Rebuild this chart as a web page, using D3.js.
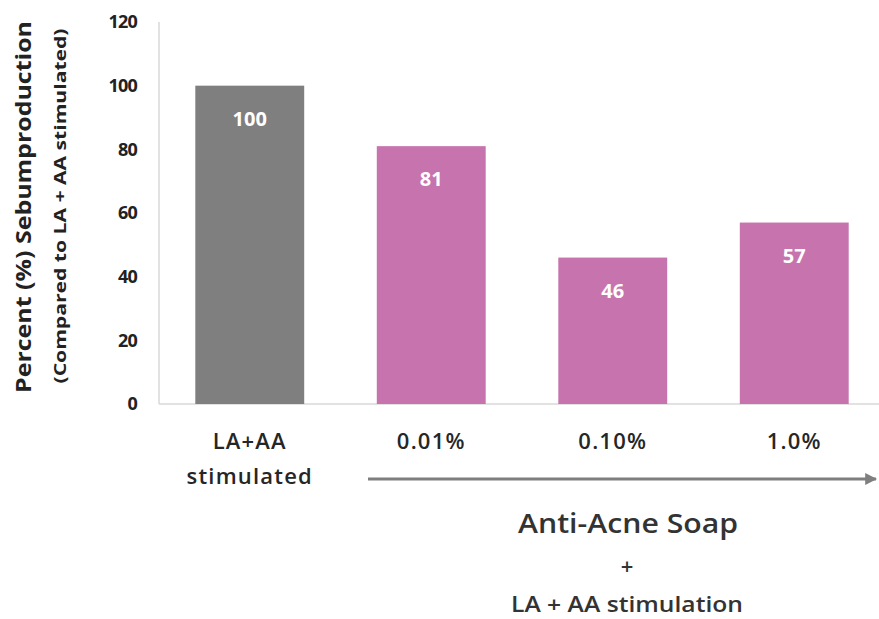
<!DOCTYPE html>
<html><head><meta charset="utf-8">
<script src="https://cdn.jsdelivr.net/npm/d3@7"></script>
<style>body{margin:0;background:#fff}</style>
</head><body>
<script>
const categories = ["LA+AA|stimulated", "0.01%", "0.10%", "1.0%"];
const values = [100, 81, 46, 57];
const barColors = ["#7f7f7f", "#c774ae", "#c774ae", "#c774ae"];
const yTicks = [0, 20, 40, 60, 80, 100, 120];

const W = 879, H = 619;
const svg = d3.select("body").append("svg").attr("width", W).attr("height", H);
const font = "'Open Sans', sans-serif";

const x = d3.scaleBand().domain(categories).range([159, 885]).paddingInner(0.4).paddingOuter(0.2);
const y = d3.scaleLinear().domain([0, 120]).range([404, 22]);

// axis lines
svg.append("line").attr("x1", 159).attr("x2", 159).attr("y1", y(120)).attr("y2", y(0))
  .attr("stroke", "#d9d9d9").attr("stroke-width", 1.5);
svg.append("line").attr("x1", 159).attr("x2", W).attr("y1", y(0)).attr("y2", y(0))
  .attr("stroke", "#d9d9d9").attr("stroke-width", 1.5);

// y tick labels
svg.selectAll(".yt").data(yTicks).enter().append("text")
  .attr("x", 137).attr("y", d => y(d)).attr("dy", "0.35em")
  .attr("text-anchor", "end").attr("font-family", font).attr("font-weight", "bold")
  .attr("font-size", 18).attr("fill", "#222").attr("letter-spacing", "-0.8")
  .text(d => d);

// bars
svg.selectAll(".bar").data(values).enter().append("rect")
  .attr("x", (d, i) => x(categories[i])).attr("width", x.bandwidth())
  .attr("y", d => y(d)).attr("height", d => y(0) - y(d))
  .attr("fill", (d, i) => barColors[i]);

svg.selectAll(".val").data(values).enter().append("text")
  .attr("x", (d, i) => x(categories[i]) + x.bandwidth() / 2)
  .attr("y", d => y(d) + 33).attr("dy", "0.35em")
  .attr("text-anchor", "middle").attr("font-family", font).attr("font-weight", "bold")
  .attr("font-size", 20).attr("fill", "#fff").text(d => d);

// category labels
categories.forEach((c, i) => {
  const lines = c.split("|");
  lines.forEach((ln, j) => {
    svg.append("text").attr("x", x(c) + x.bandwidth() / 2).attr("y", 441 + j * 35)
      .attr("dy", "0.35em").attr("text-anchor", "middle").attr("font-family", font)
      .attr("font-weight", 600).attr("letter-spacing", "1.2")
      .attr("font-size", 22).attr("fill", "#262626").text(ln);
  });
});

// arrow
svg.append("defs").append("marker").attr("id", "ah").attr("viewBox", "0 0 10 10")
  .attr("refX", 9).attr("refY", 5).attr("markerWidth", 4).attr("markerHeight", 4)
  .attr("orient", "auto").append("path").attr("d", "M0,0L10,5L0,10z").attr("fill", "#7f7f7f");
svg.append("line").attr("x1", 368).attr("x2", 876).attr("y1", 479).attr("y2", 479)
  .attr("stroke", "#7f7f7f").attr("stroke-width", 3).attr("marker-end", "url(#ah)");

svg.append("text").attr("x", 628).attr("y", 524).attr("dy", "0.35em").attr("text-anchor", "middle")
  .attr("font-family", font).attr("font-weight", 600).attr("font-size", 27).attr("fill", "#333")
  .attr("textLength", 220).attr("lengthAdjust", "spacingAndGlyphs").text("Anti-Acne Soap");
svg.append("text").attr("x", 627).attr("y", 566).attr("dy", "0.35em").attr("text-anchor", "middle")
  .attr("font-family", font).attr("font-weight", 600).attr("font-size", 22).attr("fill", "#333").text("+");
svg.append("text").attr("x", 627).attr("y", 604).attr("dy", "0.35em").attr("text-anchor", "middle")
  .attr("font-family", font).attr("font-weight", 600).attr("font-size", 22).attr("fill", "#333")
  .attr("textLength", 232).attr("lengthAdjust", "spacingAndGlyphs").text("LA + AA stimulation");

// y title
svg.append("text").attr("transform", "translate(24,207) rotate(-90)").attr("dy", "0.35em")
  .attr("text-anchor", "middle").attr("font-family", font).attr("font-weight", "bold")
  .attr("font-size", 21).attr("fill", "#222")
  .attr("textLength", 372).attr("lengthAdjust", "spacingAndGlyphs").text("Percent (%) Sebumproduction");
svg.append("text").attr("transform", "translate(60,206) rotate(-90)").attr("dy", "0.35em")
  .attr("text-anchor", "middle").attr("font-family", font).attr("font-weight", "bold")
  .attr("font-size", 16).attr("fill", "#222")
  .attr("textLength", 355).attr("lengthAdjust", "spacingAndGlyphs").text("(Compared to LA + AA stimulated)");
</script>
</body></html>
